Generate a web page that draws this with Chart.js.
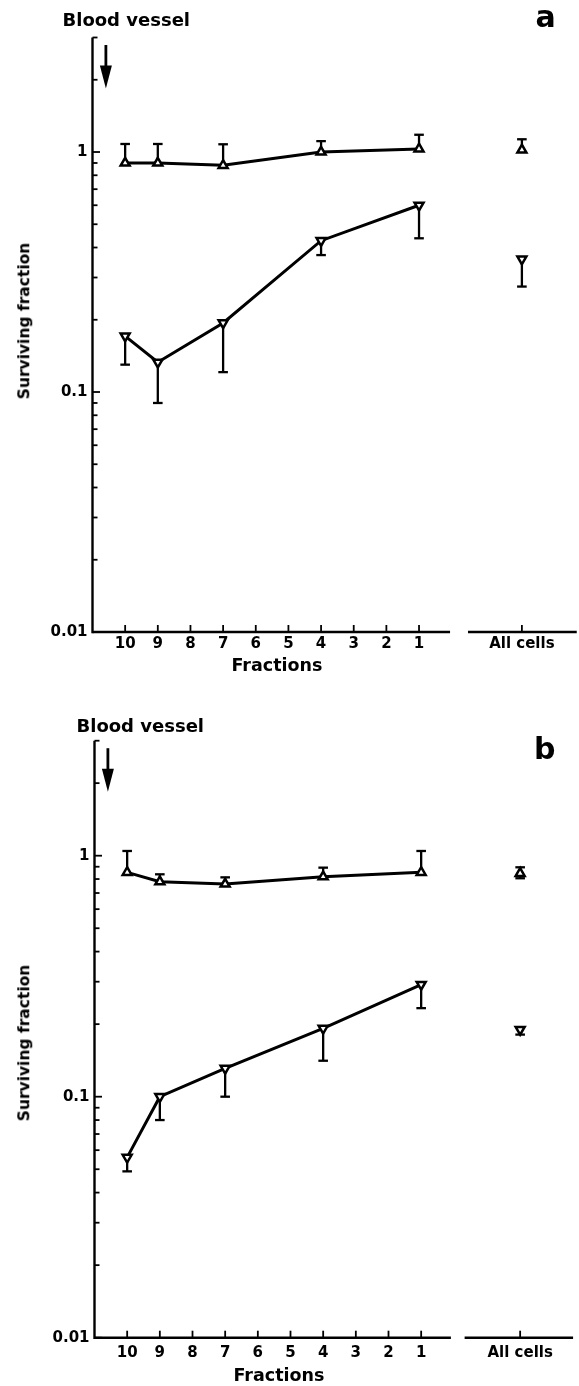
<!DOCTYPE html>
<html><head><meta charset="utf-8">
<script src="https://cdn.jsdelivr.net/npm/chart.js@4/dist/chart.umd.min.js"></script>
<style>
html,body{margin:0;padding:0;background:#fff;}
#wrap{position:relative;width:579px;height:1386px;overflow:hidden;background:#fff;}
canvas{position:absolute;left:0;}
.t{position:absolute;font-family:"DejaVu Sans",sans-serif;font-weight:bold;color:#000;white-space:nowrap;line-height:1;}
.c{text-align:center;width:200px;}
.r{transform:translate(-50%,-50%) rotate(-90deg);}
</style></head><body>
<div id="wrap">
<canvas id="ca" width="579" height="693" style="top:0;width:579px;height:693px"></canvas>
<canvas id="cb" width="579" height="693" style="top:693px;width:579px;height:693px"></canvas>
<div class="t" style="left:62.5px;top:10.8px;font-size:18px">Blood vessel</div>
<div class="t" style="left:535.5px;top:1.6px;font-size:30px">a</div>
<div class="t r" style="left:25px;top:321px;font-size:15.5px">Surviving fraction</div>
<div class="t c" style="left:177px;top:656.6px;font-size:17.5px">Fractions</div>
<div class="t" style="left:76.5px;top:716.5px;font-size:18px">Blood vessel</div>
<div class="t" style="left:534px;top:733.6px;font-size:30px">b</div>
<div class="t r" style="left:25px;top:1043px;font-size:15.5px">Surviving fraction</div>
<div class="t c" style="left:179px;top:1366.6px;font-size:17.5px">Fractions</div>
</div>
<script>
// ---- data ----
const fractions = [10, 9, 7, 4, 1];
const fractionTicks = [10, 9, 8, 7, 6, 5, 4, 3, 2, 1];
const allCellsLabel = 'All cells';
const yMajorTicks = [0.01, 0.1, 1];
const yMinorTicks = [0.02, 0.03, 0.04, 0.05, 0.06, 0.07, 0.08, 0.09,
                     0.2, 0.3, 0.4, 0.5, 0.6, 0.7, 0.8, 0.9, 2, 3];

// panel a
const aUpper      = [0.90, 0.90, 0.88, 1.00, 1.03];
const aUpperHigh  = [1.08, 1.08, 1.077, 1.11, 1.18];
const aLower      = [0.171, 0.133, 0.194, 0.427, 0.60];
const aLowerLow   = [0.130, 0.090, 0.121, 0.372, 0.437];
const aAllUpper   = [1.02];  const aAllUpperHigh = [1.13]; const aAllUpperLow = [null];
const aAllLower   = [0.358]; const aAllLowerLow  = [0.275];

// panel b
const bUpper      = [0.853, 0.78, 0.763, 0.818, 0.853];
const bUpperHigh  = [1.046, 0.837, 0.813, 0.892, 1.046];
const bLower      = [0.056, 0.100, 0.131, 0.192, 0.292];
const bLowerLow   = [0.049, 0.080, 0.100, 0.141, 0.233];
const bAllUpper   = [0.845]; const bAllUpperHigh = [0.895]; const bAllUpperLow = [0.806];
const bAllLower   = [0.190]; const bAllLowerLow  = [0.181];

// ---- drawing ----
const FONT = {family: '"DejaVu Sans", sans-serif', weight: 'bold', size: 15};

const axesPlugin = {
  id: 'customAxes',
  beforeDatasetsDraw(chart) {
    const g = chart.options.plugins.customAxes;
    const {ctx, chartArea} = chart;
    const xs = chart.scales.x, ys = chart.scales.y;
    ctx.save();
    ctx.strokeStyle = '#000';
    ctx.lineCap = 'butt';
    // y axis
    const ax = chartArea.left;
    ctx.lineWidth = 2.4;
    ctx.beginPath();
    ctx.moveTo(ax, ys.getPixelForValue(3));
    ctx.lineTo(ax, ys.getPixelForValue(0.01) + 1.2);
    ctx.stroke();
    ctx.lineWidth = 1.8;
    yMajorTicks.forEach(v => {
      const y = ys.getPixelForValue(v);
      ctx.beginPath(); ctx.moveTo(ax, y); ctx.lineTo(ax + 7.5, y); ctx.stroke();
    });
    yMinorTicks.forEach(v => {
      const y = ys.getPixelForValue(v);
      ctx.beginPath(); ctx.moveTo(ax, y); ctx.lineTo(ax + 5, y); ctx.stroke();
    });
    // x axis segments
    const by = chartArea.bottom;
    ctx.lineWidth = 2.4;
    g.segments.forEach(s => {
      ctx.beginPath();
      ctx.moveTo(xs.getPixelForValue(s[0]), by);
      ctx.lineTo(xs.getPixelForValue(s[1]), by);
      ctx.stroke();
    });
    ctx.lineWidth = 1.8;
    xs.ticks.forEach(t => {
      const x = xs.getPixelForValue(t.value);
      ctx.beginPath(); ctx.moveTo(x, by); ctx.lineTo(x, by - 7); ctx.stroke();
    });
    // blood vessel arrow
    const arX = xs.getPixelForValue(g.arrowX);
    const top = chartArea.top;
    ctx.lineWidth = 2.8;
    ctx.beginPath(); ctx.moveTo(arX, top + 7.5); ctx.lineTo(arX, top + 35); ctx.stroke();
    ctx.fillStyle = '#000';
    ctx.beginPath();
    ctx.moveTo(arX - 6, top + 28);
    ctx.lineTo(arX + 6, top + 28);
    ctx.lineTo(arX, top + 51);
    ctx.closePath(); ctx.fill();

    // error bars
    ctx.lineWidth = 2.3;
    chart.data.datasets.forEach(ds => {
      ds.data.forEach((p, i) => {
        const x = xs.getPixelForValue(p.x);
        const y = ys.getPixelForValue(p.y);
        [ds.errHigh ? ds.errHigh[i] : null, ds.errLow ? ds.errLow[i] : null].forEach(e => {
          if (e == null) return;
          const ye = ys.getPixelForValue(e);
          ctx.beginPath(); ctx.moveTo(x, y); ctx.lineTo(x, ye); ctx.stroke();
          ctx.beginPath(); ctx.moveTo(x - 4.8, ye); ctx.lineTo(x + 4.8, ye); ctx.stroke();
        });
      });
    });
    ctx.restore();
  }
};

function makePanel(id, g, d) {
  const toX = f => 11 - f;
  const mk = (vals) => vals.map((v, i) => ({x: toX(fractions[i]), y: v}));
  const pt = (rot) => ({
    borderColor: '#000', borderWidth: 3, pointStyle: 'triangle', pointRotation: rot,
    pointRadius: 5.2, pointHoverRadius: 5.2, pointBackgroundColor: '#fff',
    pointBorderColor: '#000', pointBorderWidth: 2.5, tension: 0, fill: false
  });
  new Chart(document.getElementById(id), {
    type: 'scatter',
    data: {
      datasets: [
        Object.assign({data: mk(d.upper), errHigh: d.upperHigh, showLine: true}, pt(0)),
        Object.assign({data: mk(d.lower), errLow: d.lowerLow, showLine: true}, pt(180)),
        Object.assign({data: d.allUpper.map(v => ({x: g.allX, y: v})), errHigh: d.allUpperHigh, errLow: d.allUpperLow, showLine: false}, pt(0)),
        Object.assign({data: d.allLower.map(v => ({x: g.allX, y: v})), errLow: d.allLowerLow, showLine: false}, pt(180))
      ]
    },
    options: {
      responsive: false, animation: false, events: [],
      layout: {autoPadding: false, padding: {top: g.top, right: g.right, left: 0, bottom: 0}},
      plugins: {legend: {display: false}, tooltip: {enabled: false},
        customAxes: {segments: g.segments, arrowX: g.arrowX}},
      scales: {
        x: {
          type: 'linear', min: 0, max: g.xMax,
          border: {display: false}, grid: {display: false, drawTicks: false},
          afterBuildTicks: s => { s.ticks = fractionTicks.map(f => ({value: toX(f)})).concat([{value: g.allX}]); },
          afterFit: s => { s.height = g.xHeight; },
          ticks: {autoSkip: false, maxRotation: 0, minRotation: 0, padding: g.xPad, color: '#000', font: FONT,
            callback: (v, i) => i < fractionTicks.length ? String(fractionTicks[i]) : allCellsLabel}
        },
        y: {
          type: 'logarithmic', min: 0.01, max: 3,
          border: {display: false}, grid: {display: false, drawTicks: false},
          afterBuildTicks: s => { s.ticks = yMajorTicks.map(v => ({value: v})); },
          afterFit: s => { s.width = g.left; },
          ticks: {autoSkip: false, padding: 5, color: '#000', font: FONT, callback: v => String(v)}
        }
      }
    },
    plugins: [axesPlugin]
  });
}

makePanel('ca',
  {left: 92.5, top: 37.5, xHeight: 61, right: 1.6, xMax: 14.85, xPad: 3, allX: 13.15,
   segments: [[0, 10.95], [11.5, 14.83]], arrowX: 0.41},
  {upper: aUpper, upperHigh: aUpperHigh, lower: aLower, lowerLow: aLowerLow,
   allUpper: aAllUpper, allUpperHigh: aAllUpperHigh, allUpperLow: aAllUpperLow,
   allLower: aAllLower, allLowerLow: aAllLowerLow});

makePanel('cb',
  {left: 94.5, top: 47.7, xHeight: 48.3, right: 4.3, xMax: 14.7, xPad: 6, allX: 13.03,
   segments: [[0, 10.91], [11.33, 14.65]], arrowX: 0.41},
  {upper: bUpper, upperHigh: bUpperHigh, lower: bLower, lowerLow: bLowerLow,
   allUpper: bAllUpper, allUpperHigh: bAllUpperHigh, allUpperLow: bAllUpperLow,
   allLower: bAllLower, allLowerLow: bAllLowerLow});
</script>
</body></html>
